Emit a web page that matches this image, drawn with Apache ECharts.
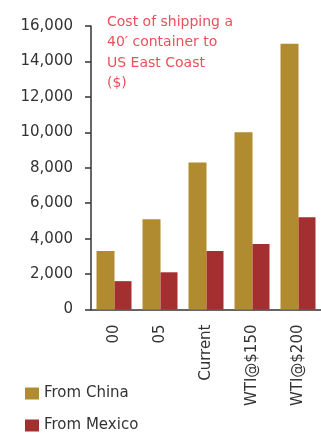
<!DOCTYPE html>
<html>
<head>
<meta charset="utf-8">
<script src="https://cdn.jsdelivr.net/npm/echarts@6/dist/echarts.min.js"></script>
<style>
html, body { margin: 0; padding: 0; background: #fff; }
#box1 { width: 321px; height: 433px; overflow: hidden; }
</style>
</head>
<body>
<div id="box1"></div>
<script>
/* shipping cost chart */
var categories = ['00', '05', 'Current', 'WTI@$150', 'WTI@$200'];
var fromChina = [3300, 5100, 8300, 10000, 15000];
var fromMexico = [1600, 2100, 3300, 3700, 5200];
var yTicks = [0, 2000, 4000, 6000, 8000, 10000, 12000, 14000, 16000];

var dom = document.getElementById("box1");
var myChart = echarts.init(dom);

var font = 'DejaVu Sans';
var legendBase = {
    left: 20,
    itemWidth: 14,
    itemHeight: 12,
    icon: 'rect',
    textStyle: { fontSize: 15, color: '#333', fontFamily: font }
};

option = {
    animation: false,
    textStyle: { fontFamily: font },
    title: {
        text: 'Cost of shipping a\n40\u2032 container to\nUS East Coast\n($)',
        left: 107,
        top: 12,
        padding: 0,
        textStyle: {
            color: '#E8505B',
            fontSize: 14,
            fontWeight: 'normal',
            lineHeight: 20.5,
            fontFamily: font
        }
    },
    // one legend per row, so they stack
    legend: [
        Object.assign({}, legendBase, { top: 381, data: ['From China'] }),
        Object.assign({}, legendBase, { top: 413, data: ['From Mexico'] })
    ],
    grid: { left: 91, top: 26, width: 237.5, height: 283.5, containLabel: false },
    xAxis: {
        type: 'category',
        data: categories,
        axisLine: { lineStyle: { color: '#333', width: 1.5 } },
        axisTick: { length: 6, lineStyle: { color: '#333', width: 1.5 } },
        axisLabel: {
            rotate: 90,
            margin: 15,
            fontSize: 15,
            color: '#333',
            fontFamily: font
        }
    },
    yAxis: {
        type: 'value',
        min: yTicks[0],
        max: yTicks[yTicks.length - 1],
        interval: 2000,
        splitLine: { show: false },
        axisLine: { show: true, lineStyle: { color: '#333', width: 1.5 } },
        axisTick: { show: true, length: 6, lineStyle: { color: '#333', width: 1.5 } },
        axisLabel: {
            margin: 18,
            fontSize: 15,
            color: '#333',
            fontFamily: font,
            formatter: function (v) { return v.toLocaleString('en-US'); }
        }
    },
    series: [
        {
            name: 'From China',
            type: 'bar',
            data: fromChina,
            barWidth: 18,
            barGap: '0%',
            itemStyle: { color: '#B08B2F' }
        },
        {
            name: 'From Mexico',
            type: 'bar',
            data: fromMexico,
            barWidth: 17,
            itemStyle: { color: '#A42F30' }
        }
    ]
};

if (option && typeof option === "object") {
    myChart.setOption(option, true);
}
</script>
</body>
</html>
